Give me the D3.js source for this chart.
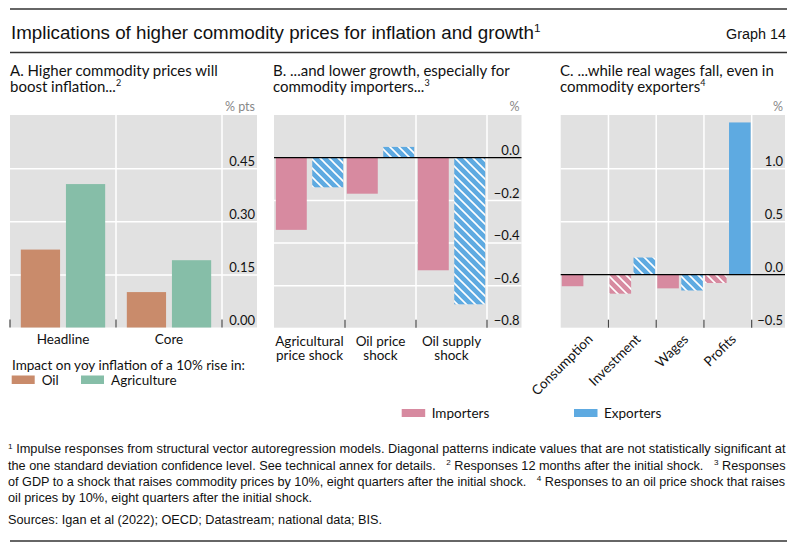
<!DOCTYPE html>
<html><head><meta charset="utf-8">
<script src="https://cdn.jsdelivr.net/npm/d3@7"></script>
<style>
html,body{margin:0;padding:0;background:#fff;}
svg{display:block;}
text{white-space:pre;}
</style></head><body>
<svg id="chart" width="800" height="553"></svg>
<script>
// ---------------- data ----------------
const catsA = ["Headline", "Core"];
const oilA = [0.22, 0.10];
const agriA = [0.405, 0.19];
const ticksA = [0, 0.15, 0.30, 0.45];

const catsB = ["Agricultural|price shock", "Oil price|shock", "Oil supply|shock"];
const importersB = [-0.34, -0.17, -0.53];
const exportersB = [-0.14, 0.05, -0.69];
const importersBHatched = [false, false, false];
const exportersBHatched = [true, true, true];
const ticksB = [0, -0.2, -0.4, -0.6, -0.8];

const catsC = ["Consumption", "Investment", "Wages", "Profits"];
const importersC = [-0.11, -0.18, -0.13, -0.08];
const exportersC = [0, 0.16, -0.15, 1.43];
const importersCHatched = [false, true, false, true];
const exportersCHatched = [false, true, true, false];
const ticksC = [-0.5, 0, 0.5, 1.0];

// ---------------- styles ----------------
const COL = {oil: "#c98b6b", agri: "#86bea8", imp: "#d78aa0", exp: "#5eaae1", bg: "#e1e1e1"};
const PANEL_FONT = "Lato, 'Noto Sans', sans-serif";
const NARROW_FONT = "'Liberation Sans Narrow', 'Liberation Sans', Arial, sans-serif";

const svg = d3.select("#chart");
const defs = svg.append("defs");
function hatch(id, color) {
  const s = 9;
  const p = defs.append("pattern").attr("id", id).attr("patternUnits", "userSpaceOnUse")
    .attr("width", s).attr("height", s);
  p.append("rect").attr("width", s).attr("height", s).attr("fill", color);
  p.append("path").attr("d", `M-1,-1 L${s+1},${s+1} M-1,${s-1} L1,${s+1} M${s-1},-1 L${s+1},1`)
    .attr("stroke", "#fff").attr("stroke-width", 1.6);
}
hatch("hImp", COL.imp);
hatch("hExp", COL.exp);

// ---------------- header ----------------
svg.append("line").attr("x1", 10).attr("x2", 787).attr("y1", 9).attr("y2", 9).attr("stroke", "#333").attr("stroke-width", 1.4);
svg.append("line").attr("x1", 10).attr("x2", 787).attr("y1", 52.5).attr("y2", 52.5).attr("stroke", "#333").attr("stroke-width", 1.4);

function fit(sel, x, y, target, anchorEnd) {
  const w = sel.node().getComputedTextLength();
  const k = target / w;
  sel.attr("x", 0).attr("y", 0).attr("text-anchor", anchorEnd ? "end" : "start")
    .attr("transform", `translate(${x},${y}) scale(${k},1)`);
  return k;
}
const title = svg.append("text").attr("font-family", NARROW_FONT).attr("font-size", 17.5).attr("fill", "#111");
title.append("tspan").text("Implications of higher commodity prices for inflation and growth");
title.append("tspan").attr("font-size", 11).attr("dy", -7).text("1");
fit(title, 11, 38.5, 530);
const g14 = svg.append("text").attr("font-family", NARROW_FONT).attr("font-size", 14.5).attr("fill", "#111").text("Graph 14");
fit(g14, 786, 38.5, 60, true);

// ---------------- panel titles ----------------
function ptitle(x, lines, sup) {
  lines.forEach((l, i) => {
    const t = svg.append("text").attr("x", x).attr("y", 75.5 + i * 16.5)
      .attr("font-family", PANEL_FONT).attr("font-size", 15).attr("fill", "#111").text(l);
    if (i === lines.length - 1) t.append("tspan").attr("font-size", 9).attr("dy", -6).text(sup);
  });
}
ptitle(10, ["A. Higher commodity prices will", "boost inflation..."], "2");
ptitle(273, ["B. ...and lower growth, especially for", "commodity importers..."], "3");
ptitle(560, ["C. ...while real wages fall, even in", "commodity exporters"], "4");

// ---------------- panel builder ----------------
function panel(cfg) {
  const g = svg.append("g");
  const top = 115, bottom = cfg.bottom;
  const y = d3.scaleLinear().domain(cfg.domain).range([bottom, top]);
  const x = d3.scaleBand().domain(cfg.cats).range([cfg.left, cfg.plotRight]).padding(0);
  const xi = d3.scaleBand().domain(cfg.series.map(s => s.key)).range([0, x.bandwidth()])
    .paddingInner(cfg.pi).paddingOuter(cfg.po);
  g.append("rect").attr("x", cfg.left).attr("y", top).attr("width", cfg.bgRight - cfg.left)
    .attr("height", bottom - top).attr("fill", COL.bg);
  // horizontal gridlines (not at the bottom edge and not at zero)
  g.append("g").attr("transform", `translate(${cfg.left},0)`)
    .call(d3.axisRight(y).tickValues(cfg.ticks.filter(t => t !== cfg.domain[0] && t !== 0))
      .tickSize(cfg.bgRight - cfg.left).tickFormat(""))
    .call(a => a.select(".domain").remove())
    .selectAll("line").attr("stroke", "#fff").attr("stroke-width", 1.5);
  // vertical gridlines
  const vx = cfg.cats.slice(1).map(c => x(c)).concat([cfg.plotRight]);
  g.selectAll(".vg").data(vx).join("line").attr("x1", d => d).attr("x2", d => d)
    .attr("y1", top).attr("y2", bottom).attr("stroke", "#fff").attr("stroke-width", 1.5);
  // bars
  cfg.series.forEach(s => {
    g.selectAll(null).data(cfg.cats.map((c, i) => ({c, v: s.values[i], h: s.hatched ? s.hatched[i] : false})))
      .join("rect")
      .attr("x", d => x(d.c) + xi(s.key)).attr("width", xi.bandwidth())
      .attr("y", d => y(Math.max(0, d.v))).attr("height", d => Math.abs(y(d.v) - y(0)))
      .attr("fill", d => d.h ? `url(#${s.pattern})` : s.color);
  });
  // zero line
  if (cfg.domain[0] < 0) {
    g.append("line").attr("x1", cfg.left).attr("x2", cfg.bgRight).attr("y1", y(0)).attr("y2", y(0))
      .attr("stroke", "#000").attr("stroke-width", 1.3);
  }
  // tick labels
  g.append("g").attr("transform", `translate(${cfg.bgRight - 2},0)`)
    .call(d3.axisRight(y).tickValues(cfg.ticks).tickFormat(cfg.fmt).tickSize(0).tickPadding(0))
    .call(a => a.select(".domain").remove())
    .selectAll("text").attr("text-anchor", "end").attr("dy", "-3px")
    .attr("font-family", PANEL_FONT).attr("font-size", 13).attr("fill", "#111");
  // unit
  g.append("text").attr("x", cfg.bgRight - 2).attr("y", 111).attr("text-anchor", "end")
    .attr("font-family", PANEL_FONT).attr("font-size", 12.5).attr("fill", "#888").text(cfg.unit);
  // bottom ticks
  g.selectAll(".bt").data(cfg.bottomTicks(x)).join("line")
    .attr("x1", d => d).attr("x2", d => d).attr("y1", bottom - 8).attr("y2", bottom)
    .attr("stroke", "#444").attr("stroke-width", 1.2);
  return {g, x, y};
}

// Panel A
const pA = panel({
  cats: catsA, domain: [0, 0.6], ticks: ticksA, fmt: d3.format(".2f"), unit: "% pts",
  left: 10, plotRight: 222, bgRight: 257, bottom: 327.5, pi: 0.13, po: 0.24,
  series: [{key: "oil", values: oilA, color: COL.oil}, {key: "agri", values: agriA, color: COL.agri}],
  bottomTicks: x => [10].concat(catsA.slice(1).map(c => x(c))).concat([222])
});
pA.g.selectAll(".catA").data(catsA).join("text")
  .attr("x", d => pA.x(d) + pA.x.bandwidth() / 2).attr("y", 344).attr("text-anchor", "middle")
  .attr("font-family", PANEL_FONT).attr("font-size", 13.5).attr("fill", "#111").text(d => d);

// Panel B
const pB = panel({
  cats: catsB, domain: [-0.8, 0.2], ticks: ticksB, fmt: d3.format(".1f"), unit: "%",
  left: 274, plotRight: 487, bgRight: 521.5, bottom: 327.7, pi: 0.15, po: 0.05,
  series: [{key: "imp", values: importersB, color: COL.imp, hatched: importersBHatched, pattern: "hImp"},
           {key: "exp", values: exportersB, color: COL.exp, hatched: exportersBHatched, pattern: "hExp"}],
  bottomTicks: x => catsB.slice(1).map(c => x(c)).concat([487])
});
catsB.forEach(c => {
  c.split("|").forEach((l, i) => {
    pB.g.append("text").attr("x", pB.x(c) + pB.x.bandwidth() / 2).attr("y", 345.5 + i * 14.5)
      .attr("text-anchor", "middle").attr("font-family", PANEL_FONT).attr("font-size", 13.5)
      .attr("fill", "#111").text(l);
  });
});

// Panel C
const pC = panel({
  cats: catsC, domain: [-0.5, 1.5], ticks: ticksC, fmt: d3.format(".1f"), unit: "%",
  left: 560.7, plotRight: 751.7, bgRight: 785, bottom: 327.7, pi: 0.1, po: 0.045,
  series: [{key: "imp", values: importersC, color: COL.imp, hatched: importersCHatched, pattern: "hImp"},
           {key: "exp", values: exportersC, color: COL.exp, hatched: exportersCHatched, pattern: "hExp"}],
  bottomTicks: x => catsC.slice(1).map(c => x(c)).concat([751.7])
});
pC.g.selectAll(".catC").data(catsC).join("text")
  .attr("text-anchor", "end").attr("font-family", PANEL_FONT).attr("font-size", 13.5).attr("fill", "#111")
  .attr("transform", d => `translate(${pC.x(d) + pC.x.bandwidth() / 2 + 9},${340}) rotate(-45)`)
  .text(d => d);

// ---------------- legends ----------------
svg.append("text").attr("x", 12).attr("y", 369.5).attr("font-family", PANEL_FONT).attr("font-size", 13.5)
  .attr("fill", "#111").text("Impact on yoy inflation of a 10% rise in:");
const legA = [{label: "Oil", color: COL.oil, x: 11.7}, {label: "Agriculture", color: COL.agri, x: 81}];
legA.forEach(d => {
  svg.append("rect").attr("x", d.x).attr("y", 375.5).attr("width", 23).attr("height", 8.5).attr("fill", d.color);
  svg.append("text").attr("x", d.x + 30).attr("y", 385).attr("font-family", PANEL_FONT).attr("font-size", 13.5)
    .attr("fill", "#111").text(d.label);
});
const legBC = [{label: "Importers", color: COL.imp, x: 401.7}, {label: "Exporters", color: COL.exp, x: 574}];
legBC.forEach(d => {
  svg.append("rect").attr("x", d.x).attr("y", 409).attr("width", 23.5).attr("height", 8).attr("fill", d.color);
  svg.append("text").attr("x", d.x + 30).attr("y", 418).attr("font-family", PANEL_FONT).attr("font-size", 13.5)
    .attr("fill", "#111").text(d.label);
});

// ---------------- footnotes ----------------
const footLines = [
  [["1", true], [" Impulse responses from structural vector autoregression models. Diagonal patterns indicate values that are not statistically significant at", false]],
  [["the one standard deviation confidence level. See technical annex for details.   ", false], ["2", true], [" Responses 12 months after the initial shock.   ", false], ["3", true], [" Responses", false]],
  [["of GDP to a shock that raises commodity prices by 10%, eight quarters after the initial shock.   ", false], ["4", true], [" Responses to an oil price shock that raises", false]],
  [["oil prices by 10%, eight quarters after the initial shock.", false]]
];
const footY = [453, 469.5, 485.5, 501.5];
const ks = [];
const footEls = footLines.map(parts => {
  const t = svg.append("text").attr("font-family", NARROW_FONT).attr("font-size", 12.5).attr("fill", "#111");
  let prevSup = false;
  parts.forEach(([s, sup]) => {
    if (sup) t.append("tspan").attr("font-size", 8).attr("dy", -4.5).text(s);
    else t.append("tspan").attr("dy", prevSup ? 4.5 : 0).text(s);
    prevSup = sup;
  });
  return t;
});
footEls.forEach((t, i) => { if (i < 3) ks.push(fit(t, 8, footY[i], 778)); });
const kAvg = d3.mean(ks);
footEls[3].attr("x", 0).attr("y", 0).attr("transform", `translate(8,${footY[3]}) scale(${kAvg},1)`);
svg.append("text").attr("font-family", NARROW_FONT).attr("font-size", 12.5).attr("fill", "#111")
  .attr("transform", `translate(8,523.5) scale(${kAvg},1)`)
  .text("Sources: Igan et al (2022); OECD; Datastream; national data; BIS.");
svg.append("line").attr("x1", 10).attr("x2", 787).attr("y1", 541).attr("y2", 541).attr("stroke", "#333").attr("stroke-width", 1.4);
</script>
</body></html>
